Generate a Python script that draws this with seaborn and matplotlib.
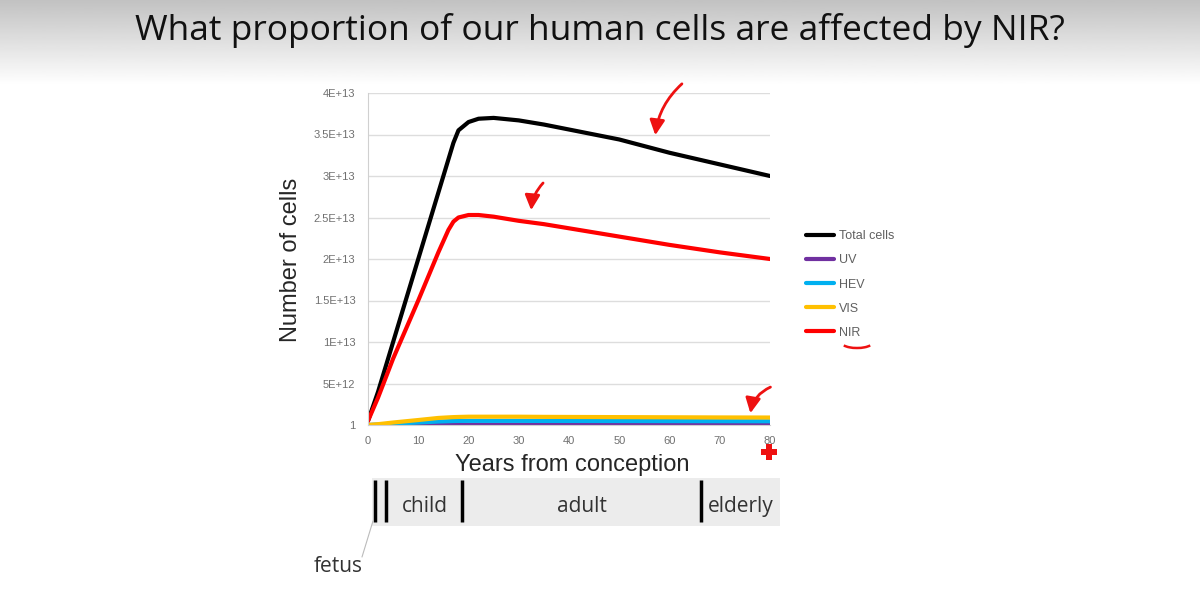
import matplotlib
matplotlib.use("Agg")
import matplotlib.pyplot as plt
import numpy as np
import pandas as pd
import seaborn as sb

# years from conception and number of cells
years = [0, 2, 5, 10, 14, 16, 17, 18, 20, 22, 25, 30, 35, 40, 50, 60, 70, 80]
total = [0.05e13, 0.40e13, 1.00e13, 2.00e13, 2.80e13, 3.20e13, 3.40e13, 3.55e13, 3.65e13,
         3.69e13, 3.70e13, 3.67e13, 3.62e13, 3.56e13, 3.44e13, 3.28e13, 3.14e13, 3.00e13]
nir = [0.05e13, 0.33e13, 0.80e13, 1.50e13, 2.08e13, 2.35e13, 2.45e13, 2.50e13, 2.53e13,
       2.53e13, 2.51e13, 2.46e13, 2.42e13, 2.37e13, 2.27e13, 2.17e13, 2.08e13, 2.00e13]
vis = [0, 0.1e12, 0.3e12, 0.6e12, 0.85e12, 0.92e12, 0.95e12, 0.97e12, 1.0e12,
       1.0e12, 1.0e12, 1.0e12, 0.98e12, 0.97e12, 0.95e12, 0.93e12, 0.91e12, 0.9e12]
hev = [0, 0.05e12, 0.15e12, 0.3e12, 0.42e12, 0.46e12, 0.48e12, 0.49e12, 0.5e12,
       0.5e12, 0.5e12, 0.5e12, 0.49e12, 0.49e12, 0.48e12, 0.47e12, 0.46e12, 0.45e12]
uv = [0, 0.01e12, 0.02e12, 0.03e12, 0.04e12, 0.04e12, 0.04e12, 0.04e12, 0.04e12,
      0.04e12, 0.04e12, 0.04e12, 0.04e12, 0.04e12, 0.04e12, 0.04e12, 0.04e12, 0.04e12]

series = ["Total cells", "UV", "HEV", "VIS", "NIR"]
colors = ["#000000", "#7030a0", "#00b0f0", "#ffc000", "#ff0000"]

y_ticks = [1, 5e12, 1e13, 1.5e13, 2e13, 2.5e13, 3e13, 3.5e13, 4e13]
y_ticklabels = ["1", "5E+12", "1E+13", "1.5E+13", "2E+13", "2.5E+13", "3E+13", "3.5E+13", "4E+13"]
x_ticks = [0, 10, 20, 30, 40, 50, 60, 70, 80]

stage_edges = [0.6, 2.8, 17.8, 65.4]
stage_names = ["child", "adult", "elderly"]
stage_label_x = [10.5, 41.7, 73.3]

df = pd.DataFrame({"year": years, "Total cells": total, "UV": uv, "HEV": hev, "VIS": vis, "NIR": nir})
long = df.melt(id_vars="year", var_name="series", value_name="cells")

sb.set_style("white")
plt.rcParams["font.family"] = ["Liberation Sans", "DejaVu Sans"]

fig = plt.figure(figsize=(12, 5.94), dpi=100)

# grey gradient band at the top of the slide
bg = fig.add_axes([0, 1 - 85 / 594, 1, 85 / 594], zorder=-5)
grad = np.linspace(0.76, 1.0, 100).reshape(-1, 1)
bg.imshow(grad, aspect="auto", cmap="gray", vmin=0, vmax=1, extent=[0, 1, 0, 1])
bg.axis("off")

fig.text(0.5, 1 - 30 / 594, "What proportion of our human cells are affected by NIR?",
         ha="center", va="center", fontsize=25.5, family="Open Sans", color="#111111")

ax = fig.add_axes([368 / 1200, 1 - 425 / 594, 402 / 1200, 332 / 594])
sb.lineplot(data=long, x="year", y="cells", hue="series", hue_order=series,
            palette=colors, linewidth=3, ax=ax, legend=False)
ax.set_xlim(0, 80)
ax.set_ylim(0, 4e13)
ax.set_yticks(y_ticks)
ax.set_yticklabels(y_ticklabels)
ax.set_xticks(x_ticks)
ax.tick_params(axis="both", length=0, labelsize=8, labelcolor="#707070")
ax.tick_params(axis="y", pad=9)
ax.tick_params(axis="x", pad=8)
ax.grid(axis="y", color="#dddddd", linewidth=1)
for s in ["top", "right"]:
    ax.spines[s].set_visible(False)
for s in ["left", "bottom"]:
    ax.spines[s].set_color("#d0d0d0")
ax.set_xlabel("Years from conception", fontsize=17)
ax.xaxis.set_label_coords((572 - 368) / 402, -(465 - 425) / 332)
ax.xaxis.label.set_va("center")
ax.set_ylabel("Number of cells", fontsize=17)
ax.yaxis.set_label_coords(-(368 - 291) / 402, (425 - 260) / 332)
ax.yaxis.label.set_va("center")

handles = [plt.Line2D([], [], color=c, linewidth=3) for c in colors]
fig.legend(handles, series, loc="upper left", bbox_to_anchor=(795 / 1200, 1 - 219 / 594),
           frameon=False, fontsize=9, labelcolor="#606060", handlelength=2.25,
           handletextpad=0.35, labelspacing=0.97)

# life stage bar
tl = fig.add_axes([372 / 1200, 1 - 526 / 594, 408 / 1200, 48 / 594])
tl.set_xlim(0, 81)
tl.set_ylim(0, 1)
tl.set_facecolor("#ececec")
for s in tl.spines.values():
    s.set_visible(False)
tl.set_xticks([])
tl.set_yticks([])
for e in stage_edges:
    tl.vlines(e, 0.08, 0.95, color="black", linewidth=2.5)
for name, x in zip(stage_names, stage_label_x):
    tl.text(x, 0.4, name, ha="center", va="center", fontsize=15, family="Open Sans", color="#333333")

fig.text(338 / 1200, 1 - 566 / 594, "fetus", ha="center", va="center", fontsize=15,
         family="Open Sans", color="#333333")
fig.add_artist(plt.Line2D([362 / 1200, 373 / 1200], [1 - 557 / 594, 1 - 521 / 594],
                          color="#bbbbbb", linewidth=0.8))

# red pen marks on the slide
def pen_arrow(x0, y0, x1, y1, rad):
    fig.add_artist(matplotlib.patches.FancyArrowPatch(
        (x0 / 1200, 1 - y0 / 594), (x1 / 1200, 1 - y1 / 594),
        transform=fig.transFigure, arrowstyle="-|>,head_length=6,head_width=3",
        connectionstyle=f"arc3,rad={rad}", color="#ee1111", linewidth=2, mutation_scale=1.5))

pen_arrow(684, 82, 655, 138, 0.2)
pen_arrow(545, 181, 531, 213, 0.2)
pen_arrow(773, 386, 750, 416, 0.3)
fig.add_artist(matplotlib.patches.Arc((857 / 1200, 1 - 343 / 594), 30 / 1200, 10 / 594,
                                      theta1=200, theta2=340, color="#ee1111", linewidth=1.8))
fig.add_artist(plt.Line2D([769 / 1200], [1 - 452 / 594], marker="P", markersize=11,
                          color="#ee1111", markeredgewidth=0))

fig.savefig("out.png", dpi=100)
